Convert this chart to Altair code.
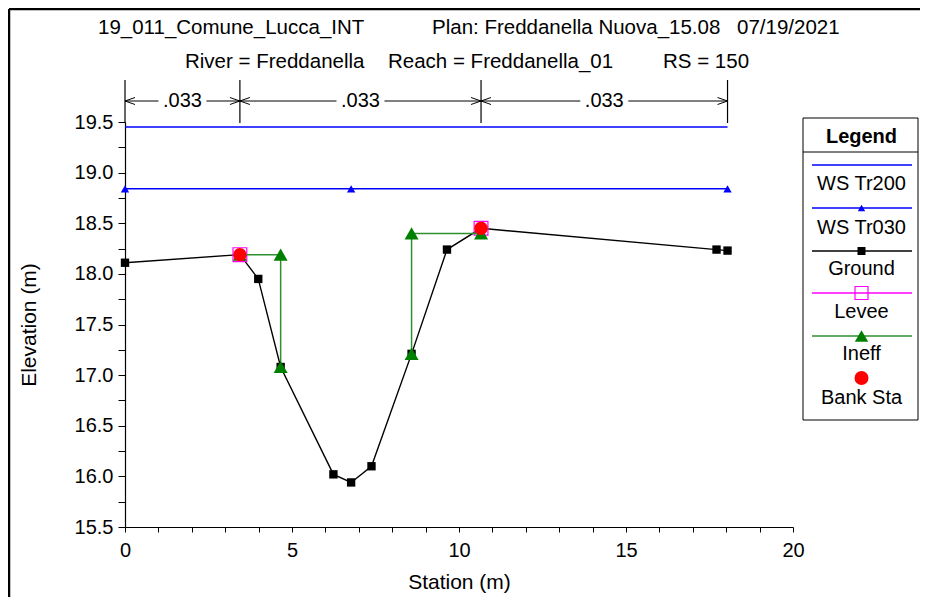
import altair as alt
import pandas as pd

# ---------------- data ----------------
ground_sta = [0.0, 3.44, 3.99, 4.66, 6.24, 6.77, 7.38, 8.58, 9.64, 10.66, 17.71, 18.04]
ground_elev = [18.11, 18.19, 17.95, 17.08, 16.02, 15.94, 16.10, 17.21, 18.24, 18.45, 18.24, 18.23]

ws200_sta = [0.0, 18.04]
ws200_elev = [19.45, 19.45]

ws030_sta = [0.0, 6.77, 18.04]
ws030_elev = [18.84, 18.84, 18.84]

levee_sta = [3.44, 10.66]
levee_elev = [18.19, 18.45]

bank_sta = [3.44, 10.66]
bank_elev = [18.19, 18.45]

ineff_sta = [3.44, 4.66, 4.66, 8.58, 8.58, 10.66]
ineff_elev = [18.19, 18.19, 17.08, 17.21, 18.40, 18.40]
ineff_grp = ["L", "L", "L", "R", "R", "R"]

n_break_sta = [0.0, 3.44, 10.66, 18.04]
n_values = [".033", ".033", ".033"]

legend_names = ["WS Tr200", "WS Tr030", "Ground", "Levee", "Ineff", "Bank Sta"]

title1_parts = ["19_011_Comune_Lucca_INT", "Plan: Freddanella Nuova_15.08", "07/19/2021"]
title2_parts = ["River = Freddanella", "Reach = Freddanella_01", "RS = 150"]

x_ticks = list(range(0, 21))
y_ticks = [15.5 + 0.25 * i for i in range(17)]

# ---------------- layout / style ----------------
FONT = "Liberation Sans"
W, H = 668, 405
PAD_L, PAD_T = 117, 114
TOTAL_W, TOTAL_H = 912, 589

BLUE = "#0000ff"
GREEN = "#008000"
MAGENTA = "#ff00ff"
RED = "#ff0000"

xs = alt.Scale(domain=[0, 20], nice=False, zero=False)
ys = alt.Scale(domain=[15.5, 19.5], nice=False, zero=False)

x_axis = alt.Axis(
    values=x_ticks,
    labelExpr="datum.value % 5 == 0 ? datum.label : ''",
    labelFlush=False,
    tickSize=5, labelPadding=8, grid=False,
    titleX=W / 2, titleY=55, titleBaseline="middle", titleAlign="center",
)
y_axis = alt.Axis(
    values=y_ticks,
    labelExpr="(datum.value * 2) % 1 == 0 ? format(datum.value, '.1f') : ''",
    labelFlush=False,
    tickSize=7, labelPadding=5, grid=False,
    titleX=-96, titleY=H / 2, titleAngle=270, titleBaseline="middle", titleAlign="center",
)


def X(field):
    return alt.X(f"{field}:Q", scale=xs, axis=x_axis, title="Station (m)")


def Y(field):
    return alt.Y(f"{field}:Q", scale=ys, axis=y_axis, title="Elevation (m)")


def one():
    return alt.Chart(pd.DataFrame({"k": [0]}))


layers = []

# ---- water surfaces ----
ws200 = pd.DataFrame({"sta": ws200_sta, "elev": ws200_elev})
layers.append(alt.Chart(ws200).mark_line(color=BLUE, strokeWidth=1.5).encode(x=X("sta"), y=Y("elev")))

ws030 = pd.DataFrame({"sta": ws030_sta, "elev": ws030_elev})
layers.append(alt.Chart(ws030).mark_line(color=BLUE, strokeWidth=1.5).encode(x=X("sta"), y=Y("elev")))
layers.append(alt.Chart(ws030).mark_point(shape="triangle-up", filled=True, size=70, color=BLUE, opacity=1)
              .encode(x=X("sta"), y=Y("elev")))

# ---- ground ----
gdf = pd.DataFrame({"sta": ground_sta, "elev": ground_elev, "i": list(range(len(ground_sta)))})
layers.append(alt.Chart(gdf).mark_line(color="black", strokeWidth=1.4)
              .encode(x=X("sta"), y=Y("elev"), order="i:Q"))
layers.append(alt.Chart(gdf).mark_point(shape="square", filled=True, size=70, color="black", opacity=1)
              .encode(x=X("sta"), y=Y("elev")))

# ---- levee ----
ldf = pd.DataFrame({"sta": levee_sta, "elev": levee_elev})
layers.append(alt.Chart(ldf).mark_point(shape="square", filled=False, size=190, color=MAGENTA,
                                         strokeWidth=1.2, opacity=1)
              .encode(x=X("sta"), y=Y("elev")))

# ---- ineffective flow ----
idf = pd.DataFrame({"sta": ineff_sta, "elev": ineff_elev, "grp": ineff_grp,
                    "i": list(range(len(ineff_sta)))})
layers.append(alt.Chart(idf).mark_line(color="#2f8f2f", strokeWidth=1.5)
              .encode(x=X("sta"), y=Y("elev"), detail="grp:N", order="i:Q"))
layers.append(alt.Chart(idf).mark_point(shape="triangle-up", filled=True, size=196, color=GREEN, opacity=1)
              .encode(x=X("sta"), y=Y("elev")))

# ---- bank stations ----
bdf = pd.DataFrame({"sta": bank_sta, "elev": bank_elev})
layers.append(alt.Chart(bdf).mark_point(shape="circle", filled=True, size=180, color=RED, opacity=1)
              .encode(x=X("sta"), y=Y("elev")))

# ---- Manning's n dimension lines above the plot ----
nb = pd.DataFrame({"sta": n_break_sta})
layers.append(alt.Chart(nb).mark_rule(color="black", strokeWidth=1.2)
              .encode(x=X("sta"), y=alt.value(-42), y2=alt.value(1)))

seg = pd.DataFrame({
    "start": n_break_sta[:-1],
    "end": n_break_sta[1:],
    "mid": [(a + b) / 2 for a, b in zip(n_break_sta[:-1], n_break_sta[1:])],
    "n": n_values,
})
layers.append(alt.Chart(seg).mark_rule(color="black", strokeWidth=1, x2Offset=-24)
              .encode(x=X("start"), x2="mid:Q", y=alt.value(-21)))
layers.append(alt.Chart(seg).mark_rule(color="black", strokeWidth=1, xOffset=24)
              .encode(x=X("mid"), x2="end:Q", y=alt.value(-21)))
layers.append(alt.Chart(seg).mark_text(font=FONT, fontSize=20, color="black", align="center", baseline="middle")
              .encode(x=X("mid"), y=alt.value(-21), text="n:N"))
LEFT_ARROW = "M0,0L1,-0.35M0,0L1,0.35"
RIGHT_ARROW = "M0,0L-1,-0.35M0,0L-1,0.35"
layers.append(alt.Chart(seg).mark_point(shape=LEFT_ARROW, filled=False, size=400, color="black",
                                         strokeWidth=1, opacity=1)
              .encode(x=X("start"), y=alt.value(-21)))
layers.append(alt.Chart(seg).mark_point(shape=RIGHT_ARROW, filled=False, size=400, color="black",
                                         strokeWidth=1, opacity=1)
              .encode(x=X("end"), y=alt.value(-21)))

# ---- titles ----
t1_x = [-27, 307, 612]
t2_x = [60, 263, 538]
for txt, px in zip(title1_parts, t1_x):
    layers.append(one().mark_text(text=txt, font=FONT, fontSize=20.5, color="black", align="left",
                                  baseline="middle").encode(x=alt.value(px), y=alt.value(-94)))
for txt, px in zip(title2_parts, t2_x):
    layers.append(one().mark_text(text=txt, font=FONT, fontSize=20.5, color="black", align="left",
                                  baseline="middle").encode(x=alt.value(px), y=alt.value(-60)))

# ---- outer frame (top / left edges visible) ----
layers.append(one().mark_rule(color="black", strokeWidth=2.5)
              .encode(x=alt.value(-PAD_L + 1), x2=alt.value(TOTAL_W), y=alt.value(-PAD_T + 1)))
layers.append(one().mark_rule(color="black", strokeWidth=2.5)
              .encode(x=alt.value(-PAD_L + 1), y=alt.value(-PAD_T + 1), y2=alt.value(TOTAL_H)))

# ---- legend box ----
LX0, LX1, LY0, LY1 = 678, 793, -4, 298
LCX = (LX0 + LX1) / 2 + 1
layers.append(one().mark_rect(fill="white", stroke="black", strokeWidth=1)
              .encode(x=alt.value(LX0), x2=alt.value(LX1), y=alt.value(LY0), y2=alt.value(LY1)))
layers.append(one().mark_text(text="Legend", font=FONT, fontSize=20, fontWeight="bold", color="black",
                              align="center", baseline="middle")
              .encode(x=alt.value(LCX), y=alt.value(15)))
layers.append(one().mark_rule(color="black", strokeWidth=1)
              .encode(x=alt.value(LX0), x2=alt.value(LX1), y=alt.value(30)))

leg_line_y = [43, 86, 129, 171, 214, 256]
leg_text_y = [62, 106, 147, 190, 232, 276]
leg_color = [BLUE, BLUE, "black", MAGENTA, "#2f8f2f", None]
leg_sym = [None, ("triangle-up", True, 55, BLUE), ("square", True, 64, "black"),
           ("square", False, 169, MAGENTA), ("triangle-up", True, 180, GREEN), ("circle", True, 196, RED)]
for name, ly, ty, lc, sym in zip(legend_names, leg_line_y, leg_text_y, leg_color, leg_sym):
    if lc is not None:
        layers.append(one().mark_rule(color=lc, strokeWidth=1.3)
                      .encode(x=alt.value(LX0 + 9), x2=alt.value(LX1 - 6), y=alt.value(ly)))
    if sym is not None:
        shp, fil, sz, col = sym
        layers.append(one().mark_point(shape=shp, filled=fil, size=sz, color=col, opacity=1, strokeWidth=1.2)
                      .encode(x=alt.value(LCX), y=alt.value(ly)))
    layers.append(one().mark_text(text=name, font=FONT, fontSize=20, color="black", align="center",
                                  baseline="middle")
                  .encode(x=alt.value(LCX), y=alt.value(ty)))

chart = alt.layer(*layers).properties(
    width=W, height=H,
    autosize=alt.AutoSizeParams(type="none"),
    padding={"left": PAD_L, "top": PAD_T, "right": TOTAL_W - PAD_L - W, "bottom": TOTAL_H - PAD_T - H},
    background="white",
).configure_view(stroke=None).configure_axis(
    labelFont=FONT, labelFontSize=20, labelColor="black",
    titleFont=FONT, titleFontSize=21, titleFontWeight="normal", titleColor="black",
    domainColor="black", tickColor="black", domainWidth=1.2, tickWidth=1,
)

chart.save("out.html", embed_options={"renderer": "svg", "actions": False})
